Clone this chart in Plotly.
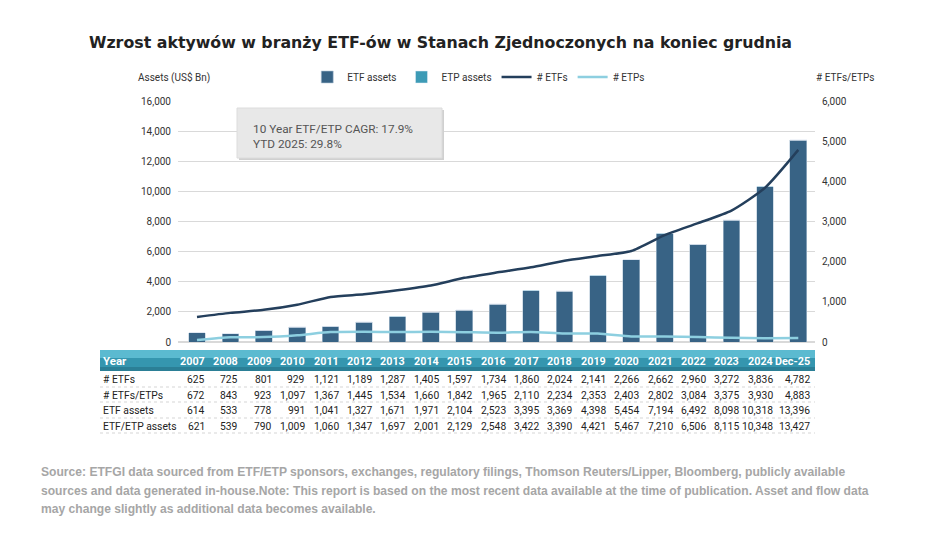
import plotly.graph_objects as go

years = ["2007", "2008", "2009", "2010", "2011", "2012", "2013", "2014", "2015", "2016",
         "2017", "2018", "2019", "2020", "2021", "2022", "2023", "2024", "Dec-25"]
n_etfs = [625, 725, 801, 929, 1121, 1189, 1287, 1405, 1597, 1734,
          1860, 2024, 2141, 2266, 2662, 2960, 3272, 3836, 4782]
n_etfs_etps = [672, 843, 923, 1097, 1367, 1445, 1534, 1660, 1842, 1965,
               2110, 2234, 2353, 2403, 2802, 3084, 3375, 3930, 4883]
etf_assets = [614, 533, 778, 991, 1041, 1327, 1671, 1971, 2104, 2523,
              3395, 3369, 4398, 5454, 7194, 6492, 8098, 10318, 13396]
etf_etp_assets = [621, 539, 790, 1009, 1060, 1347, 1697, 2001, 2129, 2548,
                  3422, 3390, 4421, 5467, 7210, 6506, 8115, 10348, 13427]
# ETP-only part (difference of the table rows)
etp_assets = [7, 6, 12, 18, 19, 20, 26, 30, 25, 25, 27, 21, 23, 13, 16, 14, 17, 30, 31]
n_etps = [47, 118, 122, 168, 246, 256, 247, 255, 245, 231, 250, 210, 212, 137, 140, 124, 103, 94, 101]

W, H = 948, 557
DARK = "#386385"
TEAL = "#3d9bb6"
NAVY = "#243f5c"
LIGHT = "#8dcfe0"
FONT = "DejaVu Sans"
NARROW = "Roboto"


def py(y):
    return 1 - y / H


def px_(x):
    return x / W


fig = go.Figure()
fig.add_trace(go.Bar(x=years, y=etf_assets, name="ETF assets", marker_color=DARK,
                     marker_line=dict(color="#b7cad8", width=0.6)))
fig.add_trace(go.Bar(x=years, y=etp_assets, name="ETP assets", marker_color=TEAL))
fig.add_trace(go.Scatter(x=years, y=n_etfs, name="# ETFs", yaxis="y2", mode="lines",
                         line=dict(color=NAVY, width=2.5, shape="spline", smoothing=0.6)))
fig.add_trace(go.Scatter(x=years, y=n_etps, name="# ETPs", yaxis="y2", mode="lines",
                         line=dict(color=LIGHT, width=2.5, shape="spline", smoothing=0.6)))

shapes = []
# CAGR box with a soft shadow
shapes.append(dict(type="rect", xref="paper", yref="paper", x0=px_(239), x1=px_(444),
                   y0=py(160), y1=py(110), fillcolor="#d0d0d0", line_width=0, layer="above"))
shapes.append(dict(type="rect", xref="paper", yref="paper", x0=px_(237), x1=px_(442),
                   y0=py(158), y1=py(108), fillcolor="#e8e8e8", line=dict(color="#dcdcdc", width=1),
                   layer="above"))
# table header band (a few tones to suggest the gradient)
shapes.append(dict(type="rect", xref="paper", yref="paper", x0=px_(100), x1=px_(815),
                   y0=py(371), y1=py(350), fillcolor="#3596af", line_width=0))
shapes.append(dict(type="rect", xref="paper", yref="paper", x0=px_(100), x1=px_(815),
                   y0=py(358), y1=py(350), fillcolor="#5bbad0", line_width=0))
shapes.append(dict(type="rect", xref="paper", yref="paper", x0=px_(100), x1=px_(815),
                   y0=py(371), y1=py(367), fillcolor="#2b7f96", line_width=0))
for yy in [387, 402, 418, 433]:
    shapes.append(dict(type="line", xref="paper", yref="paper", x0=px_(100), x1=px_(815),
                       y0=py(yy), y1=py(yy), line=dict(color="#d5d5d5", width=1, dash="dot")))

ann = []
ann.append(dict(text="Wzrost aktywów w branży ETF-ów w Stanach Zjednoczonych na koniec grudnia",
                xref="paper", yref="paper", x=px_(87), y=py(42), xanchor="left", yanchor="middle",
                showarrow=False, font=dict(family=FONT, size=15.8, color="#222222", weight="bold")))
ann.append(dict(text="Assets (US$ Bn)", xref="paper", yref="paper", x=px_(136), y=py(77),
                xanchor="left", yanchor="middle", showarrow=False,
                font=dict(family=NARROW, size=10, color="#333333")))
ann.append(dict(text="# ETFs/ETPs", xref="paper", yref="paper", x=px_(876), y=py(77),
                xanchor="right", yanchor="middle", showarrow=False,
                font=dict(family=NARROW, size=10, color="#333333")))
ann.append(dict(text="10 Year ETF/ETP CAGR: 17.9%<br>YTD 2025: 29.8%", xref="paper", yref="paper",
                x=px_(251), y=py(136), xanchor="left", yanchor="middle", align="left",
                showarrow=False, font=dict(family=NARROW, size=11.8, color="#555555")))

# table: numbers right-aligned just right of each bar, last column a bit wider
shifts = [10] * (len(years) - 1) + [14]
table_font = dict(family=NARROW, size=10.3, color="#222222")
ann.append(dict(text="<b>Year</b>", xref="paper", yref="paper", x=px_(101), y=py(361),
                xanchor="left", yanchor="middle", showarrow=False,
                font=dict(family=NARROW, size=11.5, color="white")))
for i, yr in enumerate(years):
    ann.append(dict(text="<b>" + yr + "</b>", x=i, xref="x", yref="paper", y=py(361),
                    xanchor="right", xshift=shifts[i], yanchor="middle", showarrow=False,
                    font=dict(family=NARROW, size=10.8, color="white")))

rows = [("# ETFs", n_etfs), ("# ETFs/ETPs", n_etfs_etps),
        ("ETF assets", etf_assets), ("ETF/ETP assets", etf_etp_assets)]
row_y = [379, 395, 410, 426]
for (label, vals), yy in zip(rows, row_y):
    ann.append(dict(text=label, xref="paper", yref="paper", x=px_(101), y=py(yy),
                    xanchor="left", yanchor="middle", showarrow=False, font=table_font))
    for i, v in enumerate(vals):
        ann.append(dict(text=f"{v:,}", x=i, xref="x", yref="paper", y=py(yy),
                        xanchor="right", xshift=shifts[i], yanchor="middle", showarrow=False,
                        font=table_font))

source_lines = [
    "Source: ETFGI data sourced from ETF/ETP sponsors, exchanges, regulatory filings, "
    "Thomson Reuters/Lipper, Bloomberg, publicly available",
    "sources and data generated in-house.Note: This report is based on the most recent "
    "data available at the time of publication. Asset and flow data",
    "may change slightly as additional data becomes available.",
]
for line, yy in zip(source_lines, [472, 491, 509]):
    ann.append(dict(text=line, xref="paper", yref="paper", x=px_(39), y=py(yy),
                    xanchor="left", yanchor="middle", align="left", showarrow=False,
                    font=dict(family="Liberation Sans", size=12.1, color="#a6a6a6", weight="bold")))

fig.update_layout(
    width=W, height=H,
    margin=dict(l=0, r=0, t=0, b=0),
    paper_bgcolor="white", plot_bgcolor="white",
    barmode="stack", bargap=0.5,
    font=dict(family=NARROW, size=10, color="#333333"),
    showlegend=True,
    legend=dict(orientation="h", traceorder="normal", x=0.505, xanchor="center", y=py(77),
                yanchor="middle", font=dict(family=NARROW, size=10, color="#333333"),
                itemwidth=30, bgcolor="rgba(0,0,0,0)"),
    xaxis=dict(type="category", domain=[px_(178), px_(815)], showticklabels=False,
               showgrid=False, showline=False, ticks="", automargin=False),
    yaxis=dict(domain=[py(342), py(101)], range=[0, 16000], dtick=2000, tickformat=",",
               gridcolor="#d9d9d9", zeroline=True, zerolinecolor="#d9d9d9", automargin=False,
               ticklabelstandoff=6, tickfont=dict(size=10)),
    yaxis2=dict(overlaying="y", side="right", range=[0, 6000], dtick=1000, tickformat=",",
                showgrid=False, zeroline=False, ticklabelstandoff=6, automargin=False,
                tickfont=dict(size=10)),
    shapes=shapes,
    annotations=ann,
)

fig.write_html("out.html", config={"displayModeBar": False},
               post_script="document.body.style.margin='0';")
